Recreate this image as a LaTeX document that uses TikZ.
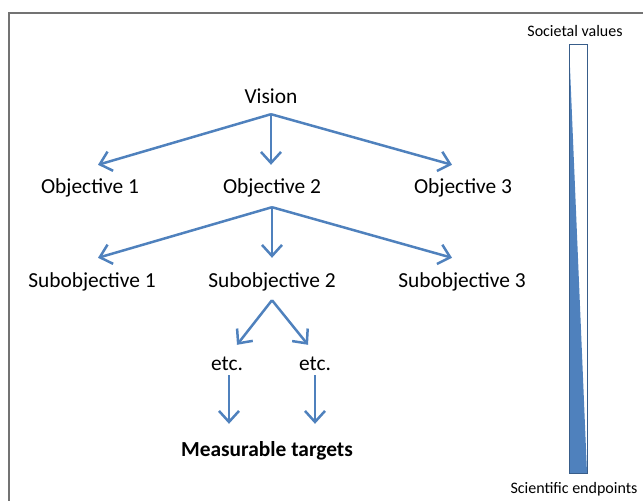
\documentclass[tikz,border=0pt]{standalone}
\usepackage{fontspec}
\setmainfont{Carlito}
\usetikzlibrary{arrows.meta}
\definecolor{officeblue}{HTML}{4F81BD}
\definecolor{officeline}{HTML}{385D8A}

\begin{document}
\begin{tikzpicture}[%
    x=1pt,
    y=-1pt,
    ->,
    >={Straight Barb[length=11pt,width=20pt]},
    every edge/.style={draw, officeblue, line width=2.5pt},
    goal/.style={%
      inner sep=0pt,
      anchor=base,
      font=\fontsize{21.4}{25}\selectfont
    },
    endlabel/.style={%
      inner sep=0pt,
      anchor=base,
      font=\fontsize{16}{19}\selectfont
    }
  ]
    \useasboundingbox (0,0) rectangle (643,501);

    % frame
    \draw[-, black!55, line width=1.2pt] (9,501) -- (9,13) -- (643,13);

    % hierarchy
    \node[goal, text depth=11pt] (vision) at (271,103) {Vision};
    \node[goal, text height=28pt, text depth=14pt] (obj1) at (90,193)  {Objective 1};
    \node[goal, text height=28pt, text depth=14pt] (obj2) at (272,193) {Objective 2};
    \node[goal, text height=28pt, text depth=14pt] (obj3) at (463,193) {Objective 3};
    \node[goal, text height=29pt, text depth=13pt] (sub1) at (92,287)  {Subobjective 1};
    \node[goal, text height=29pt, text depth=13pt] (sub2) at (272,287) {Subobjective 2};
    \node[goal, text height=29pt, text depth=13pt] (sub3) at (462,287) {Subobjective 3};
    \node[goal, text height=25pt, text depth=5pt]  (etc1) at (227,370) {etc.};
    \node[goal, text height=25pt, text depth=5pt]  (etc2) at (315,370) {etc.};
    \node[goal, text height=32pt] (targets) at (267,456) {\bfseries Measurable targets};

    \path (vision.south) edge ([xshift=8pt]obj1.north)
          (vision.south) edge (vision.south |- obj2.north)
          (vision.south) edge ([xshift=-11pt]obj3.north)
          (obj2.south)   edge ([xshift=6pt]sub1.north)
          (obj2.south)   edge (obj2.south |- sub2.north)
          (obj2.south)   edge ([xshift=-10pt]sub3.north)
          (sub2.south)   edge ([xshift=10pt]etc1.north)
          (sub2.south)   edge ([xshift=-7pt]etc2.north)
          ([xshift=2pt]etc1.south) edge ([xshift=2pt]etc1.south |- targets.north)
          (etc2.south)   edge (etc2.south |- targets.north)
          ;

    % scale bar
    \node[endlabel] (societal)   at (575,36)  {Societal values};
    \node[endlabel] (scientific) at (574,493) {Scientific endpoints};
    \coordinate (bartop) at (569,44);
    \coordinate (barbot) at (587,473);
    \fill[officeblue] (bartop) -- (bartop |- barbot) -- (barbot) -- cycle;
    \draw[-, officeline, line width=1pt] (bartop) rectangle (barbot);
  \end{tikzpicture}
\end{document}
